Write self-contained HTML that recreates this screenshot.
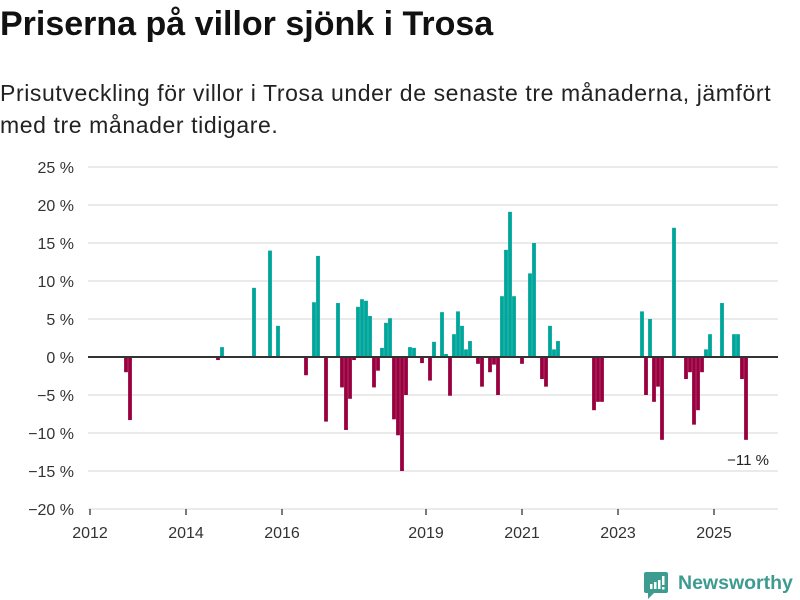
<!DOCTYPE html>
<html><head><meta charset="utf-8">
<style>
body{margin:0;background:#fff;width:800px;height:600px;overflow:hidden;font-family:"Liberation Sans",sans-serif;color:#111}
#title{position:absolute;left:0;top:5px;font-size:34px;font-weight:bold;margin:0}
#sub{position:absolute;left:0;top:77px;font-size:23px;letter-spacing:0.6px;line-height:32px;width:800px;color:#222;white-space:nowrap}
svg{position:absolute;left:0;top:0}
</style></head><body>
<h1 id="title">Priserna på villor sjönk i Trosa</h1>
<div id="sub">Prisutveckling för villor i Trosa under de senaste tre månaderna, jämfört<br>med tre månader tidigare.</div>
<svg id="chart" width="800" height="600"></svg>
<script>
// month index from Jan 2012
const months=[9,10,32,33,41,45,47,54,56,57,59,62,63,64,65,66,67,68,69,70,71,72,73,74,75,76,77,78,79,80,81,83,85,86,88,89,90,91,92,93,94,95,97,98,100,101,102,103,104,105,106,108,110,111,113,114,115,116,117,126,127,128,138,139,140,141,142,143,146,149,150,151,152,153,154,155,158,161,162,163,164];
const values=[-2,-8.3,-0.4,1.3,9.1,14,4.1,-2.4,7.2,13.3,-8.5,7.1,-4,-9.6,-5.5,-0.4,6.6,7.6,7.4,5.4,-4,-1.8,1.2,4.5,5.1,-8.2,-10.3,-15,-5,1.3,1.2,-0.8,-3.1,2,5.9,0.4,-5.1,3,6,4.1,1,2.1,-0.9,-3.9,-2,-1,-5,8,14.1,19.1,8,-0.9,11,15,-2.9,-3.9,4.1,1,2.1,-7,-5.9,-5.9,6,-5,5,-5.9,-3.9,-10.9,17,-2.9,-2,-8.9,-7,-2,1,3,7.1,3,3,-2.9,-10.9];
const yTicks=[25,20,15,10,5,0,-5,-10,-15,-20];
const xYears=[2012,2014,2016,2019,2021,2023,2025];
const lastLabel="\u221211 %";

const NS="http://www.w3.org/2000/svg";
const svg=document.getElementById('chart');
const y=v=>357-v*7.6;
const x=m=>90+4*m;
function mk(t,a){const e=document.createElementNS(NS,t);for(const k in a)e.setAttribute(k,a[k]);svg.appendChild(e);return e;}
yTicks.forEach(v=>{
  const g=mk('line',{x1:88,x2:778,y1:y(v),y2:y(v),stroke:'#dedede','stroke-width':1.3});
  
  
  const t=mk('text',{x:74,y:y(v)+6,'text-anchor':'end','font-size':16,fill:'#333','font-family':'Liberation Sans, sans-serif'});
  t.textContent=(v<0?'\u2212'+(-v):v)+' %';
  
  
});
xYears.forEach(yr=>{
  const px=x((yr-2012)*12);
  const tk=mk('line',{x1:px,x2:px,y1:509,y2:515,stroke:'#333','stroke-width':1.3});
  
  
  const t=mk('text',{x:px,y:538,'text-anchor':'middle','font-size':16,fill:'#333','font-family':'Liberation Sans, sans-serif'});
  t.textContent=yr;
  
  
});
months.forEach((m,i)=>{
  const v=values[i];
  const r=mk('rect',{x:x(m)-1.9,width:3.8,y:Math.min(y(v),y(0)),height:Math.abs(y(v)-y(0)),fill:v>=0?'#00a59b':'#990040'});
  
  
});
const zl=mk('line',{x1:88,x2:778,y1:y(0),y2:y(0),stroke:'#333','stroke-width':2});


const lm=months[months.length-1],lv=values[values.length-1];
const lt=mk('text',{x:x(lm)+23,y:y(lv)+25,'text-anchor':'end','font-size':15,fill:'#222','font-family':'Liberation Sans, sans-serif'});
lt.textContent=lastLabel;


</script>
<svg width="800" height="600" style="pointer-events:none">
  <path d="M646 572 h20 a2 2 0 0 1 2 2 v17 a2 2 0 0 1 -2 2 h-12 l-6 6 v-6 h-2 a2 2 0 0 1 -2 -2 v-17 a2 2 0 0 1 2 -2z" fill="#3d9c8f"/>
  <rect x="650" y="584" width="2.5" height="5" fill="#fff"/><rect x="654" y="582" width="2.5" height="7" fill="#fff"/><rect x="658" y="580" width="2.5" height="9" fill="#fff"/><rect x="662" y="576" width="2.5" height="9" fill="#fff"/><rect x="662" y="587" width="2.5" height="2.5" fill="#fff"/>
  <text x="678" y="589" font-size="19.5" font-weight="bold" fill="#3d9c8f" font-family="Liberation Sans, sans-serif">Newsworthy</text>
</svg>
</body></html>
